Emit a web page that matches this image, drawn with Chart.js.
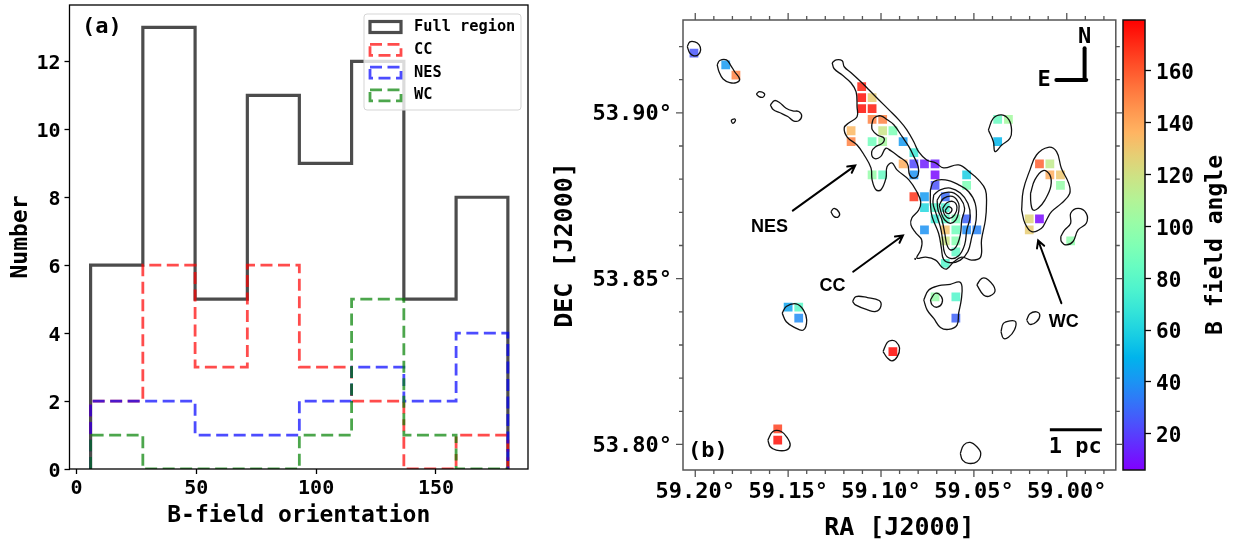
<!DOCTYPE html>
<html>
<head>
<meta charset="utf-8">
<script src="https://cdn.jsdelivr.net/npm/chart.js@4"></script>
<style>
  body { margin: 0; background: #fff; width: 1240px; height: 541px; overflow: hidden; position: relative; }
  canvas { position: absolute; top: 0; }
</style>
</head>
<body>
<canvas id="hist" width="540" height="541" style="left:0"></canvas>
<canvas id="map" width="582" height="541" style="left:540px"></canvas>
<canvas id="cbar" width="118" height="541" style="left:1122px"></canvas>
<script>
// histogram (a)
const binEdges = [5.9, 27.7, 49.5, 71.3, 93, 114.8, 136.6, 158.4, 180];
const fullCounts = [6, 13, 5, 11, 9, 12, 5, 8];
const ccCounts = [2, 6, 3, 6, 3, 2, 0, 1];
const nesCounts = [2, 2, 1, 1, 2, 3, 2, 4];
const wcCounts = [1, 0, 0, 0, 1, 5, 1, 0];
const histNames = ['Full region', 'CC', 'NES', 'WC'];

// map (b): offsets in 0.001 deg from this field centre
const ra0 = 59.0;
const dec0 = 53.85;
const raTickStep = 0.01;
const decTickStep = 0.01;

const polOffsets = [
  [200.7,68],[183.6,64.5],[178.1,61.4],[110.4,57.9],[110.4,54.6],[104.8,54.6],[110.4,51.3],[104.8,51.3],
  [104.8,48],[99.1,48],[116.1,44.6],[99.1,44.6],[93.6,44.6],[116.1,41.3],[104.8,41.3],[99.1,41.3],
  [88.1,41.3],[82.3,38],[88.1,34.6],[82.3,34.6],[76.6,34.6],[70.9,34.6],[104.8,31.3],[99.1,31.3],
  [82.3,31.3],[70.9,31.3],[53.9,31.3],[70.9,28.1],[53.9,28.1],[82.3,24.7],[76.6,24.7],[65.4,24.7],
  [76.6,21.4],[70.9,21.4],[65.4,21.4],[70.9,18],[65.4,18],[59.7,18],[53.9,18],[76.6,14.7],
  [65.4,14.7],[59.7,14.7],[53.9,14.7],[48.4,14.7],[65.4,11.4],[59.7,11.4],[59.7,8.1],[65.4,4.6],
  [37.2,48],[31.4,48],[37.2,41.3],[14.7,34.6],[9.1,34.6],[9.1,31.3],[3.4,31.3],[3.4,28.1],
  [20.2,18],[14.7,18],[20.2,14.7],[-2.1,11.4],[70.9,-5.5],[59.7,-5.5],[59.7,-11.9],[93.6,-22],
  [150,-8.6],[144.3,-8.6],[144.3,-11.9],[155.6,-45.3],[155.6,-48.7]
];
const polAngles = [
  25,42,150,172,176,128,176,174,
  150,150,135,118,92,150,88,106,
  42,70,138,22,12,12,100,84,
  40,8,58,24,92,168,42,30,
  62,78,75,70,80,90,28,40,
  132,88,38,36,118,95,82,78,
  85,105,50,158,115,138,130,100,
  125,8,128,98,100,78,28,178,
  45,80,38,165,176
];

const contours = [
  [[204.3,70],[202.9,71.4],[200.2,71.4],[197.9,70.5],[197.1,69],[198.4,67.5],[200.7,67.2],[202.9,68]],
  [[188.2,64.5],[186.8,65.8],[183.2,66],[181.1,64.5],[178.8,62.4],[176.1,60.2],[177.9,59.1],[181.4,59.1],[185,60.2],[187.2,62.4]],
  [[167.1,55.7],[165.4,56.4],[162.7,55.7],[163.6,54.7],[165.7,54.9]],
  [[159.6,52.4],[157.3,53.7],[154.7,53.1],[151.1,51.4],[147.5,50.6],[144.3,50.4],[142.7,49.1],[144.3,47.6],[147.2,47.6],[150.2,48.9],[154.7,50.1],[157.9,50.9]],
  [[180.5,47.9],[178.8,48.2],[178.4,47.6],[179.7,46.8],[180.5,47.4]],
  // main ridge, outer level
  [[126.3,65.1],[124.1,66],[120.9,65.7],[119.8,63.9],[116.1,62.1],[110.7,59.3],[106.4,56.9],[101.1,53.9],[95.7,50.9],[90.4,47.9],
   [86.1,44.9],[82.3,41.2],[79.7,38.2],[75.4,35.8],[70.6,34.9],[66.3,33.4],[58.2,34.3],[51.8,31.9],[47.5,29.8],[43.8,26.8],
   [43.2,22.8],[43.8,17.7],[45.9,11.7],[46.4,6.5],[51.3,5.6],[56.6,6.5],[60.9,5],[64.7,2.9],[67.3,3.5],[70.6,5.6],
   [75.9,6.5],[80.7,6.2],[78.6,8.7],[78.1,11.7],[81.3,13.8],[83.9,16.2],[83.4,18.3],[79.7,20.7],[78.6,23.1],[80.7,26.2],
   [85,29.8],[91.4,32.8],[94.1,34.9],[96.8,33.7],[97.3,30.4],[100,26.8],[102.7,26.8],[104.8,29.8],[105.4,33.4],[109.1,37.3],
   [112.9,40.3],[118.2,42.7],[119.8,45.5],[117.2,47],[112.9,48.8],[112.9,51.8],[113.4,56.3],[116.1,59],[120.9,61.4],[125.2,63.3]],
  // main ridge, inner level
  [[105,46.4],[103.8,48.4],[100.2,49.1],[96.6,47.9],[93.1,46.4],[88.6,42.8],[85,39.8],[82.3,36.8],[80,33.8],[80,31.3],[82.3,30.3],[84.6,31.3],
   [85.9,34.8],[90.4,36.8],[94.8,38.6],[97.5,39.3],[100.2,36.8],[103.8,36.3],[105,38.3],[102.9,39.8],[99.3,40.8],[98.4,42.4],[102,43.3],[104.7,44.9]],
  // CC levels
  [[73.4,26.8],[71.6,29.3],[65.4,29.8],[58.2,28.3],[52.9,26.3],[49.3,22.7],[48.8,17.7],[51.1,12.7],[53.2,8.2],[57.3,5.6],[62.7,4.8],[66.3,5.8],[67.5,9.2],[69,13.7],[72.5,18.7],[73.4,22.7]],
  [[71.6,25.3],[68.1,26.8],[62.7,27.3],[57.3,25.8],[53.2,22.7],[52,18.7],[53.8,14.7],[55,10.2],[58.2,6.9],[62.7,6.1],[65.7,7.7],[66.8,11.7],[68.1,15.7],[70.7,20.2],[72,22.7]],
  [[69.8,23.7],[67.2,25.6],[61.8,26],[57.3,24.2],[55,21.2],[56.5,17.7],[57.3,13.2],[59.7,9.5],[62.7,8.7],[64.5,10.2],[65.7,13.7],[67.2,17.7],[69.3,20.7]],
  [[68.6,22.2],[66.3,24.2],[61.5,24.8],[58.2,22.7],[58.2,20.2],[59.7,17.7],[62.7,16.7],[65.7,17.7],[67.5,19.7]],
  [[66.8,21.2],[64.5,22.9],[60.9,23.2],[59.1,21.5],[60.4,19.2],[63.2,18.2],[65.7,19.2]],
  [[65.4,20.7],[63.6,21.7],[61.8,20.9],[63.2,19.7],[65,19.9]],
  // top right blob and WC
  [[42.2,44.8],[39.5,48.4],[35,49.4],[31.1,47.9],[29.7,44.8],[30.6,42.3],[35,40.3],[38.6,38.3],[39.5,41.3]],
  [[24.3,20.7],[23.4,26.7],[19.8,32.8],[16.3,37.3],[10,39.6],[5.5,38.3],[2.9,33.3],[-1,28.8],[-1.6,25.7],[2.9,22.7],[8.2,20.2],[10.9,17.7],[13.6,15.2],[18.9,14.2],[22.5,16.7]],
  [[19.5,25.7],[17.2,29.8],[12.7,32.6],[9.1,31.3],[8.6,27.8],[11.8,23.7],[15.4,21.2],[18.1,20.7],[19.3,22.7]],
  [[3.2,12.7],[1.1,14.7],[-2.1,16.7],[-2.1,19.7],[-6.1,21.2],[-10.5,19.7],[-10.5,16.7],[-6.1,14.7],[-3.4,11.2],[0.2,10.2],[2.9,11.2]],
  // southern clumps
  [[48.4,-1.9],[45.7,0.1],[42.2,-0.4],[38.6,-3.4],[41.3,-5.2],[44.8,-4.9]],
  [[77,-6.4],[74.3,-3.4],[68.9,-2.1],[62.7,-1.7],[57.9,-1],[56.4,-2.4],[56.8,-6.4],[58.2,-10.4],[59.1,-14],[63.6,-15.3],[68,-14.7],[71.6,-12],[75.2,-9.4]],
  [[73.4,-6.4],[70.7,-4.4],[67.5,-5.4],[67.2,-7.4],[69.8,-8.6],[72.5,-7.9]],
  [[21.6,-12.5],[19.8,-10.6],[16.3,-10],[14.5,-11],[16.3,-13],[19.8,-13.8]],
  [[35.4,-16],[34.1,-13.5],[30.5,-12.7],[27.5,-13],[28.2,-15.5],[31.4,-17.7],[34.1,-18]],
  [[57.3,-52.7],[55.5,-50.2],[52,-49.4],[48.4,-50.7],[46.3,-52.7],[48.4,-55.2],[52.9,-55.7],[56.1,-54.7]],
  [[127,20.2],[125.2,21.2],[122.5,19.9],[122.9,18.7],[125.2,18.7]],
  [[115.3,-6.9],[113.5,-5.4],[107.3,-5.7],[101,-6.6],[100.1,-8.4],[102.8,-9.9],[107.3,-9.4],[113.5,-8]],
  [[153.2,-10.4],[151,-8.4],[145.7,-7.6],[141.8,-9.4],[140,-12.5],[141.8,-15.5],[146.6,-14.7],[151,-13]],
  [[98.9,-22],[96.6,-19.2],[94.1,-18.6],[92,-19],[90,-20.9],[91.3,-23.6],[94.1,-24.8],[96.6,-23.9]],
  [[160.9,-48.7],[158.2,-46.1],[153.7,-46.1],[150.2,-48.2],[148.9,-50.2],[151,-51.7],[156.4,-51.7],[159.6,-50.7]],
  [[82,6],[81.6,6.1],[81.5,5.8]]
];

const MONO = '"DejaVu Sans Mono"';
const angleMin = 6;
const angleMax = 179.6;

function rainbow(v, alpha) {
  const t = (v - angleMin) / (angleMax - angleMin);
  const r = Math.round(255 * Math.abs(2 * t - 0.5));
  const g = Math.round(255 * Math.sin(Math.PI * t));
  const b = Math.round(255 * Math.cos(Math.PI * t / 2));
  return `rgba(${Math.min(r, 255)},${g},${b},${alpha})`;
}

function stepLine(counts) {
  const pts = [{ x: binEdges[0], y: 0 }];
  counts.forEach((c, i) => {
    pts.push({ x: binEdges[i], y: c });
    pts.push({ x: binEdges[i + 1], y: c });
  });
  pts.push({ x: binEdges[binEdges.length - 1], y: 0 });
  return pts;
}

const toSky = ([dx, dy]) => ({ x: ra0 + dx / 1000, y: dec0 + dy / 1000 });

// keep the plot area where the figure has it
function fixedBox(size) {
  return s => {
    if (s.isHorizontal()) s.height = size; else s.width = size;
    s.paddingLeft = s.paddingRight = s.paddingTop = s.paddingBottom = 0;
  };
}

// empty first line + small line height nudges y tick labels down a little
const lowered = text => text === '' ? '' : ['', text];

function framePlugin(color, width) {
  return {
    id: 'frame',
    afterDatasetsDraw(chart) {
      const a = chart.chartArea, c = chart.ctx;
      c.save();
      c.strokeStyle = color;
      c.lineWidth = width;
      c.strokeRect(a.left, a.top, a.right - a.left, a.bottom - a.top);
      c.restore();
    }
  };
}

const histLegend = {
  id: 'histLegend',
  afterDatasetsDraw(chart) {
    const c = chart.ctx;
    c.save();
    c.fillStyle = 'rgba(255,255,255,0.8)';
    c.strokeStyle = '#d5d5d5';
    c.lineWidth = 1;
    c.beginPath();
    c.roundRect(364, 14, 157, 96, 3);
    c.fill();
    c.stroke();
    chart.data.datasets.forEach((d, i) => {
      const y = 27 + i * 22.8;
      c.strokeStyle = d.borderColor;
      c.lineWidth = d.borderWidth;
      c.setLineDash(d.borderDash || []);
      c.strokeRect(370, y - 5.5, 31, 11);
      c.setLineDash([]);
      c.fillStyle = '#000';
      c.font = `bold 15.3px ${MONO}`;
      c.textBaseline = 'middle';
      c.fillText(d.label, 414, y);
    });
    c.font = `bold 22px ${MONO}`;
    c.textBaseline = 'middle';
    c.fillText('(a)', 82, 27);
    c.restore();
  }
};

const dashed = [12, 5.5];
new Chart(document.getElementById('hist'), {
  type: 'scatter',
  data: {
    datasets: [
      { label: histNames[0], data: stepLine(fullCounts), borderColor: 'rgba(0,0,0,0.7)', borderWidth: 3.2, order: 3 },
      { label: histNames[1], data: stepLine(ccCounts), borderColor: 'rgba(255,0,0,0.7)', borderWidth: 2.8, borderDash: dashed, order: 2 },
      { label: histNames[2], data: stepLine(nesCounts), borderColor: 'rgba(0,0,255,0.7)', borderWidth: 2.8, borderDash: dashed, order: 1 },
      { label: histNames[3], data: stepLine(wcCounts), borderColor: 'rgba(0,128,0,0.7)', borderWidth: 2.8, borderDash: dashed, order: 0 }
    ].map(d => ({ ...d, showLine: true, pointRadius: 0, tension: 0, clip: 0 }))
  },
  options: {
    responsive: false,
    animation: false,
    layout: { padding: { top: 5, right: 12, left: 0, bottom: 0 } },
    plugins: { legend: { display: false }, tooltip: { enabled: false } },
    scales: {
      x: {
        min: -2.9, max: 188.4,
        afterFit: fixedBox(72),
        grid: { drawOnChartArea: false, tickLength: 5, tickColor: '#000', tickWidth: 1.3 },
        border: { display: false },
        ticks: { stepSize: 50, includeBounds: false, color: '#000', maxRotation: 0, padding: 3, font: { family: MONO, weight: 'bold', size: 20 } },
        title: { display: true, text: 'B-field orientation', color: '#000', padding: { top: 0, bottom: 11 }, font: { family: MONO, weight: 'bold', size: 23 } }
      },
      y: {
        min: 0, max: 13.66,
        afterFit: fixedBox(69.5),
        grid: { drawOnChartArea: false, tickLength: 5, tickColor: '#000', tickWidth: 1.3 },
        border: { display: false },
        ticks: { stepSize: 2, includeBounds: false, color: '#000', padding: 4, callback: v => lowered(String(v)), font: { family: MONO, weight: 'bold', size: 20, lineHeight: '5px' } },
        title: { display: true, text: 'Number', color: '#000', padding: { top: 7.5, bottom: 0 }, font: { family: MONO, weight: 'bold', size: 23 } }
      }
    }
  },
  plugins: [framePlugin('#000', 1.3), histLegend]
});

const isMajor = v => Math.abs(v * 20 - Math.round(v * 20)) < 1e-6;

const mapTicks = {
  id: 'mapTicks',
  afterDatasetsDraw(chart) {
    const c = chart.ctx, a = chart.chartArea;
    c.save();
    c.strokeStyle = '#555';
    c.lineWidth = 1.3;
    c.beginPath();
    chart.scales.x.ticks.forEach(t => {
      const px = chart.scales.x.getPixelForValue(t.value);
      const len = isMajor(t.value) ? 7 : 4;
      c.moveTo(px, a.bottom); c.lineTo(px, a.bottom + len);
      c.moveTo(px, a.top); c.lineTo(px, a.top - len);
    });
    chart.scales.y.ticks.forEach(t => {
      const py = chart.scales.y.getPixelForValue(t.value);
      const len = isMajor(t.value) ? 7 : 4;
      c.moveTo(a.left, py); c.lineTo(a.left - len, py);
      c.moveTo(a.right, py); c.lineTo(a.right + len, py);
    });
    c.stroke();
    c.restore();
  }
};

function arrow(c, from, to, width, head) {
  const ang = Math.atan2(to[1] - from[1], to[0] - from[0]);
  c.lineWidth = width;
  c.beginPath();
  c.moveTo(from[0], from[1]);
  c.lineTo(to[0], to[1]);
  if (head) {
    c.moveTo(to[0] - head * Math.cos(ang - 0.5), to[1] - head * Math.sin(ang - 0.5));
    c.lineTo(to[0], to[1]);
    c.lineTo(to[0] - head * Math.cos(ang + 0.5), to[1] - head * Math.sin(ang + 0.5));
  }
  c.stroke();
}

const mapNotes = {
  id: 'mapNotes',
  afterDatasetsDraw(chart) {
    const c = chart.ctx;
    const at = (dx, dy) => {
      const s = toSky([dx, dy]);
      return [chart.scales.x.getPixelForValue(s.x), chart.scales.y.getPixelForValue(s.y)];
    };
    const label = (text, font, dx, dy) => {
      const p = at(dx, dy);
      c.font = font;
      c.fillText(text, p[0], p[1] + 1.5);
    };
    c.save();
    c.strokeStyle = '#000';
    c.fillStyle = '#000';
    c.lineCap = 'round';
    c.textAlign = 'center';
    c.textBaseline = 'middle';
    arrow(c, at(147.5, 20.5), at(113.9, 34.1), 2, 8);
    arrow(c, at(115, 2.1), at(88.2, 13), 2, 8);
    arrow(c, at(2.9, -7.4), at(15.4, 11.5), 2, 8);
    arrow(c, at(5.6, 59.9), at(-10.5, 59.9), 4, 0);
    arrow(c, at(-9.6, 69.5), at(-9.6, 59.9), 4, 0);
    c.lineCap = 'butt';
    arrow(c, at(9.1, -45.6), at(-18.9, -45.6), 3, 0);
    const sans = 'bold 18px "Liberation Sans"';
    label('NES', sans, 160, 15.9);
    label('CC', sans, 126.1, -1.7);
    label('WC', sans, 1.6, -12.7);
    const mono = `bold 22px ${MONO}`;
    label('N', mono, -9.6, 73.3);
    label('E', mono, 12.2, 60.2);
    label('1 pc', mono, -4.6, -50.5);
    label('(b)', mono, 193.2, -51.7);
    c.restore();
  }
};

const raTick = v => isMajor(v) ? v.toFixed(2) + '°' : '';

new Chart(document.getElementById('map'), {
  type: 'scatter',
  data: {
    datasets: [
      ...contours.map(line => ({
        data: [...line, line[0]].map(toSky),
        showLine: true, pointRadius: 0, borderColor: '#111', borderWidth: 1.3, tension: 0.4, order: 0
      })),
      {
        data: polOffsets.map(toSky),
        pointStyle: 'rect', pointRadius: 6.2, pointBorderWidth: 0, order: 1,
        backgroundColor: ctx => rainbow(polAngles[ctx.dataIndex], 0.85)
      }
    ]
  },
  options: {
    responsive: false,
    animation: false,
    layout: { padding: { top: 20, right: 4, left: 0, bottom: 0 } },
    plugins: { legend: { display: false }, tooltip: { enabled: false } },
    scales: {
      x: {
        reverse: true,
        min: 58.9736, max: 59.2066,
        afterFit: fixedBox(71),
        grid: { display: false, drawTicks: false },
        border: { display: false },
        ticks: { stepSize: raTickStep, includeBounds: false, autoSkip: false, maxRotation: 0, padding: 9, color: '#000', callback: raTick, font: { family: MONO, weight: 'bold', size: 22 } },
        title: { display: true, text: 'RA [J2000]', color: '#000', padding: { top: 0, bottom: 0 }, font: { family: MONO, weight: 'bold', size: 25, lineHeight: 1 } }
      },
      y: {
        min: 53.7923, max: 53.928,
        afterFit: fixedBox(143),
        grid: { display: false, drawTicks: false },
        border: { display: false },
        ticks: { stepSize: decTickStep, includeBounds: false, autoSkip: false, padding: 11, color: '#000', callback: v => lowered(raTick(v)), font: { family: MONO, weight: 'bold', size: 22, lineHeight: '3px' } },
        title: { display: true, text: 'DEC [J2000]', color: '#000', padding: { top: 10, bottom: 0 }, font: { family: MONO, weight: 'bold', size: 25 } }
      }
    }
  },
  plugins: [framePlugin('#555', 1.5), mapTicks, mapNotes]
});

// colour bar: one floating bar with the colour map as its fill
const cbarLabel = {
  id: 'cbarLabel',
  afterDraw(chart) {
    const c = chart.ctx;
    c.save();
    c.translate(94, 245);
    c.rotate(-Math.PI / 2);
    c.font = `bold 23px ${MONO}`;
    c.fillStyle = '#000';
    c.textAlign = 'center';
    c.textBaseline = 'middle';
    c.fillText('B field angle', 0, 0);
    c.restore();
  }
};

new Chart(document.getElementById('cbar'), {
  type: 'bar',
  data: {
    labels: [''],
    datasets: [{
      data: [[angleMin, angleMax]],
      barPercentage: 1,
      categoryPercentage: 1,
      backgroundColor: ctx => {
        const a = ctx.chart.chartArea;
        if (!a) return '#888';
        const g = ctx.chart.ctx.createLinearGradient(0, a.bottom, 0, a.top);
        for (let i = 0; i <= 20; i++) {
          g.addColorStop(i / 20, rainbow(angleMin + (angleMax - angleMin) * i / 20, 1));
        }
        return g;
      }
    }]
  },
  options: {
    responsive: false,
    animation: false,
    layout: { padding: { top: 20, bottom: 71, left: 1, right: 0 } },
    plugins: { legend: { display: false }, tooltip: { enabled: false } },
    scales: {
      x: { display: false },
      y: {
        position: 'right',
        min: angleMin, max: angleMax,
        afterFit: fixedBox(95),
        grid: { drawOnChartArea: false, tickLength: 6, tickColor: '#000', tickWidth: 1.3 },
        border: { display: false },
        ticks: { stepSize: 20, includeBounds: false, padding: 5, color: '#000', callback: v => lowered(String(v)), font: { family: MONO, weight: 'bold', size: 21, lineHeight: '6px' } }
      }
    }
  },
  plugins: [framePlugin('#111', 1.5), cbarLabel]
});
</script>
</body>
</html>
